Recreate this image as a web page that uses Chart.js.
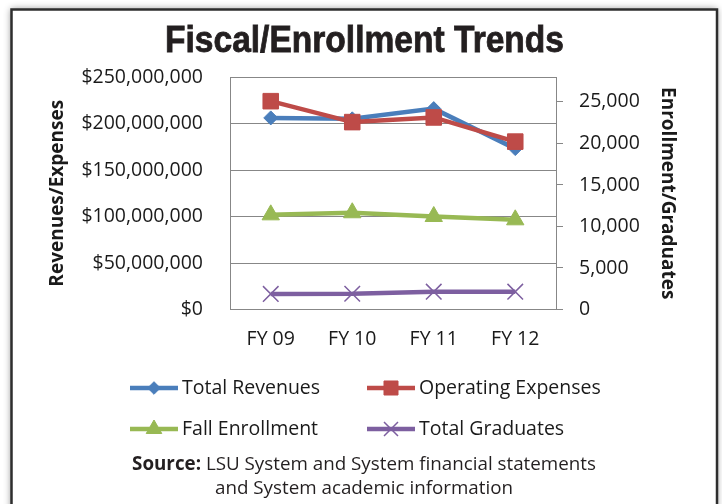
<!DOCTYPE html>
<html>
<head>
<meta charset="utf-8">
<script src="https://cdn.jsdelivr.net/npm/chart.js@4/dist/chart.umd.min.js"></script>
<style>
  html, body { margin: 0; padding: 0; background: #fff; }
  canvas { display: block; }
</style>
</head>
<body>
<canvas id="trendChart" width="722" height="504"></canvas>
<script>
// Chart data
const categories = ['FY 09', 'FY 10', 'FY 11', 'FY 12'];
const totalRevenues = [206000000, 205000000, 216000000, 173000000];
const operatingExpenses = [224000000, 201500000, 206500000, 180500000];
const fallEnrollment = [11400, 11650, 11200, 10800];
const totalGraduates = [1880, 1900, 2150, 2150];

const moneyTicks = [0, 50000000, 100000000, 150000000, 200000000, 250000000];
const countTicks = [0, 5000, 10000, 15000, 20000, 25000];

const titleText = 'Fiscal/Enrollment Trends';
const sourceBold = 'Source:';
const sourceLine1 = ' LSU System and System financial statements';
const sourceLine2 = 'and System academic information';

const FONT = "'Open Sans', 'DejaVu Sans', sans-serif";
const GRID = '#878787';

// Frame, title, legend and source note drawn around the plot
const decorPlugin = {
  id: 'decor',
  beforeDraw(chart) {
    const ctx = chart.ctx;
    ctx.save();
    ctx.fillStyle = '#fff';
    ctx.fillRect(0, 0, chart.width, chart.height);
    ctx.shadowColor = 'rgba(0,0,0,0.45)';
    ctx.shadowBlur = 7;
    ctx.fillRect(11, 9, 706, 560);
    ctx.restore();

    ctx.save();
    ctx.strokeStyle = '#2e2e2e';
    ctx.lineWidth = 2.5;
    ctx.strokeRect(11.5, 9.5, 705.5, 560);
    ctx.restore();
  },
  afterDraw(chart) {
    const ctx = chart.ctx;

    // title, squeezed to the reference width
    ctx.save();
    ctx.font = "bold 36px 'Liberation Sans', Arial, sans-serif";
    const tw = ctx.measureText(titleText).width;
    const sx = 399 / tw;
    ctx.translate(364.5, 52);
    ctx.scale(sx, 1);
    ctx.fillStyle = '#231f20';
    ctx.strokeStyle = '#231f20';
    ctx.lineWidth = 0.8;
    ctx.textAlign = 'center';
    ctx.textBaseline = 'alphabetic';
    ctx.fillText(titleText, 0, 0);
    ctx.strokeText(titleText, 0, 0);
    ctx.restore();

    // legend in two columns, Excel style (line with marker)
    const colX = [130, 367];
    const rowY = [388, 429];
    chart.data.datasets.forEach((ds, i) => {
      const x0 = colX[i % 2];
      const y = rowY[Math.floor(i / 2)];
      ctx.save();
      ctx.strokeStyle = ds.borderColor;
      ctx.lineWidth = ds.borderWidth;
      ctx.beginPath();
      ctx.moveTo(x0, y);
      ctx.lineTo(x0 + 48, y);
      ctx.stroke();
      ctx.fillStyle = ds.pointBackgroundColor;
      ctx.strokeStyle = ds.pointBorderColor;
      ctx.lineWidth = ds.pointBorderWidth;
      Chart.helpers.drawPoint(ctx, {
        pointStyle: ds.pointStyle,
        radius: ds.pointRadius * 0.9,
        borderWidth: ds.pointBorderWidth,
        rotation: 0
      }, x0 + 24, y);
      ctx.fillStyle = '#1a1a1a';
      ctx.font = '19.5px ' + FONT;
      ctx.textAlign = 'left';
      ctx.textBaseline = 'middle';
      ctx.fillText(ds.label, x0 + 52, y);
      ctx.restore();
    });

    // source note
    ctx.save();
    ctx.fillStyle = '#231f20';
    ctx.textBaseline = 'middle';
    ctx.textAlign = 'left';
    const boldFont = 'bold 18.8px ' + FONT;
    const normFont = '18.8px ' + FONT;
    ctx.font = boldFont;
    const bw = ctx.measureText(sourceBold).width;
    ctx.font = normFont;
    const nw = ctx.measureText(sourceLine1).width;
    let sx1 = 364 - (bw + nw) / 2;
    ctx.font = boldFont;
    ctx.fillText(sourceBold, sx1, 465);
    ctx.font = normFont;
    ctx.fillText(sourceLine1, sx1 + bw, 465);
    ctx.textAlign = 'center';
    ctx.fillText(sourceLine2, 364, 489);
    ctx.restore();
  }
};

const ctx = document.getElementById('trendChart');

new Chart(ctx, {
  type: 'line',
  data: {
    labels: categories,
    datasets: [{
      label: 'Total Revenues',
      data: totalRevenues,
      yAxisID: 'yMoney',
      borderColor: '#4a7ebb',
      borderWidth: 4.5,
      pointStyle: 'rectRot',
      pointRadius: 7,
      pointBackgroundColor: '#4a7ebb',
      pointBorderColor: '#4a7ebb',
      pointBorderWidth: 1,
      order: 4
    }, {
      label: 'Operating Expenses',
      data: operatingExpenses,
      yAxisID: 'yMoney',
      borderColor: '#be4b48',
      borderWidth: 4.5,
      pointStyle: 'rect',
      pointRadius: 11,
      pointBackgroundColor: '#be4b48',
      pointBorderColor: '#be4b48',
      pointBorderWidth: 1,
      order: 3
    }, {
      label: 'Fall Enrollment',
      data: fallEnrollment,
      yAxisID: 'yCount',
      borderColor: '#98b954',
      borderWidth: 4.5,
      pointStyle: 'triangle',
      pointRadius: 10,
      pointBackgroundColor: '#98b954',
      pointBorderColor: '#98b954',
      pointBorderWidth: 1,
      order: 2
    }, {
      label: 'Total Graduates',
      data: totalGraduates,
      yAxisID: 'yCount',
      borderColor: '#7d5fa0',
      borderWidth: 4.5,
      pointStyle: 'crossRot',
      pointRadius: 11,
      pointBackgroundColor: '#7d5fa0',
      pointBorderColor: '#7d5fa0',
      pointBorderWidth: 1.5,
      order: 1
    }]
  },
  options: {
    responsive: false,
    animation: false,
    events: [],
    layout: { padding: { top: 77, left: 0, right: 0, bottom: 0 } },
    plugins: {
      legend: { display: false },
      tooltip: { enabled: false },
      title: { display: false }
    },
    scales: {
      x: {
        offset: true,
        grid: { display: false, drawTicks: false },
        border: { display: true, color: GRID, width: 1 },
        ticks: {
          color: '#1a1a1a',
          font: { family: FONT, size: 19.5 },
          padding: 18,
          maxRotation: 0
        },
        afterFit(scale) { scale.height = 194.5; }
      },
      yMoney: {
        position: 'left',
        min: 0,
        max: 250000000,
        afterBuildTicks(scale) {
          scale.ticks = moneyTicks.map(v => ({ value: v }));
        },
        grid: { color: GRID, lineWidth: 1, drawTicks: false },
        border: { display: true, color: GRID, width: 1 },
        ticks: {
          color: '#1a1a1a',
          font: { family: FONT, size: 19.5 },
          padding: 27,
          callback: v => '$' + v.toLocaleString('en-US')
        },
        title: {
          display: true,
          text: 'Revenues/Expenses',
          color: '#1a1a1a',
          font: { family: FONT, size: 19, weight: 'bold' },
          padding: { top: 46, bottom: 0 }
        },
        afterFit(scale) { scale.width = 230; }
      },
      yCount: {
        position: 'right',
        min: 0,
        max: 28000,
        afterBuildTicks(scale) {
          scale.ticks = countTicks.map(v => ({ value: v }));
        },
        grid: { drawOnChartArea: false, color: GRID, lineWidth: 1, drawTicks: true, tickLength: 7 },
        border: { display: true, color: GRID, width: 1 },
        ticks: {
          color: '#1a1a1a',
          font: { family: FONT, size: 19.5 },
          padding: 16,
          callback: v => v.toLocaleString('en-US')
        },
        title: {
          display: true,
          text: 'Enrollment/Graduates',
          color: '#1a1a1a',
          font: { family: FONT, size: 19, weight: 'bold' },
          padding: { top: 43, bottom: 0 }
        },
        afterFit(scale) { scale.width = 166; }
      }
    }
  },
  plugins: [decorPlugin]
});
</script>
</body>
</html>
